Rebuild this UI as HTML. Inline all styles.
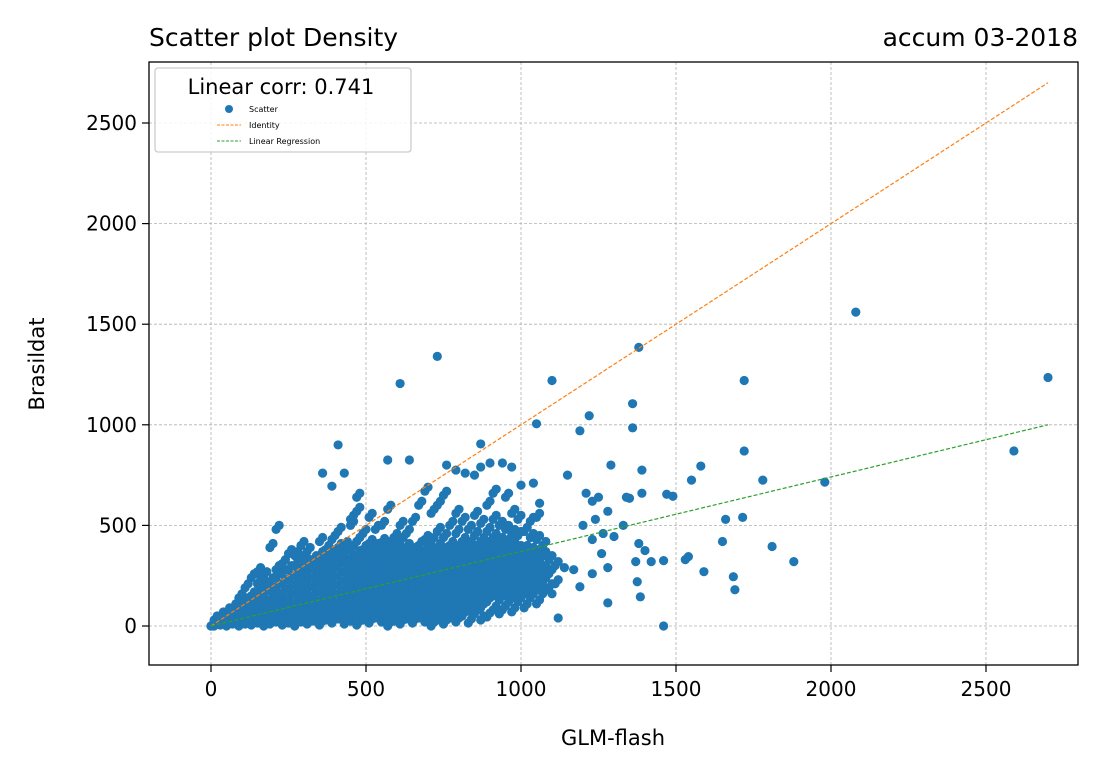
<!DOCTYPE html>
<html><head><meta charset="utf-8"><style>
body{margin:0;background:#fff;font-family:"Liberation Sans","DejaVu Sans",sans-serif}
svg text{font-family:"DejaVu Sans","Liberation Sans",sans-serif}
</style></head><body>
<svg id="chart" width="1099" height="773" xmlns="http://www.w3.org/2000/svg">
<rect width="1099" height="773" fill="#fff"/>
<g id="grid"></g>
<g id="marks"></g>
<g id="lines"></g>
<rect x="149" y="62" width="929" height="603" fill="none" stroke="#000" stroke-width="1.3"/>
<g id="ticks"></g>
<text x="149" y="46" font-size="25">Scatter plot Density</text>
<text x="1078" y="46" font-size="25" text-anchor="end">accum 03-2018</text>
<text x="613" y="745" font-size="21" text-anchor="middle">GLM-flash</text>
<text x="44" y="364" font-size="21" text-anchor="middle" transform="rotate(-90 44 364)">Brasildat</text>
<g>
<rect x="155" y="68" width="256" height="84" rx="3" fill="#fff" fill-opacity="0.85" stroke="#ccc" stroke-width="1.3"/>
<text x="281" y="94" font-size="21" text-anchor="middle">Linear corr: 0.741</text>
<circle cx="229" cy="109" r="4" fill="#1f77b4"/>
<text x="249" y="112" font-size="8">Scatter</text>
<line x1="217" y1="125" x2="241" y2="125" stroke="#ff7f0e" stroke-width="1" stroke-dasharray="3,1.5"/>
<text x="249" y="128" font-size="8">Identity</text>
<line x1="217" y1="141" x2="241" y2="141" stroke="#2ca02c" stroke-width="1" stroke-dasharray="3,1.5"/>
<text x="249" y="144" font-size="8">Linear Regression</text>
</g>
</svg>
<script>
const xTicks=[0,500,1000,1500,2000,2500];
const yTicks=[0,500,1000,1500,2000,2500];
const outliers=[[2080,1560],[2700,1235],[2590,870],[1980,715],[1880,320],[1810,395],[1780,725],[1720,1220],[1720,870],[1715,540],[1690,180],[1685,245],[1660,530],[1650,420],[1580,795],[1590,270],[1550,725],[1540,345],[1530,330],[1490,645],[1470,655],[1460,325],[1460,0],[1420,320],[1400,375],[1390,660],[1390,775],[1380,1385],[1360,1105],[1360,985],[1380,410],[1375,220],[1385,145],[1370,320],[1350,635],[1330,500],[1300,445],[1290,800],[1280,290],[1280,570],[1280,115],[1260,360],[1250,640],[1240,530],[1230,430],[1230,260],[1220,1045],[1210,660],[1190,970],[1200,500],[1190,195],[1150,750],[1140,290],[1120,40],[1100,1220],[1100,160],[1050,1005],[1040,710],[1000,700],[730,1340],[610,1205],[410,900],[570,825],[640,825],[360,760],[430,760],[390,695],[870,905],[760,800],[870,790],[900,810],[940,810],[970,790],[820,760],[790,775],[850,750],[1060,610],[1080,300],[1170,280],[1230,620],[1265,460],[1340,640]];
const clusterX=[0,10,30,50,70,90,110,130,150,170,190,210,230,250,270,290,310,330,350,370,390,410,430,450,470,490,510,530,550,570,590,610,630,650,670,690,710,730,750,770,790,810,830,850,870,890,910,930,950,970,990,1010,1030,1050,1070,1090,1110];
const clusterY=[[0,0],[0,10,30],[5,20,50],[0,15,40,70],[10,30,60,90,20],[0,25,55,100,140],[10,40,80,120,190],[5,35,70,110,150,240],[15,50,90,130,170,210,270],[0,30,70,110,160,200,250],[10,45,85,130,175,220,390],[20,60,100,140,190,240,280,480],[5,40,80,120,165,210,260,310],[15,55,95,140,185,230,280,360],[0,35,75,115,160,205,250,300,350],[20,60,100,145,190,235,280,330,400],[10,50,90,130,175,220,265,310,370],[25,65,105,150,195,240,285,330],[5,45,85,125,170,215,260,305,350,420],[30,70,110,155,200,245,290,335,380],[15,55,95,140,185,230,275,320,360,430],[35,75,115,160,205,250,295,340,390,470],[10,50,90,135,180,225,270,315,360,400],[25,65,105,150,195,240,285,330,380,500,530],[5,45,85,130,175,220,265,310,355,420,570,640],[30,70,110,155,200,245,290,335,380,460],[15,55,95,140,185,230,275,320,365,410,540],[40,80,120,165,210,255,300,345,390,480],[20,60,100,145,190,235,280,325,370,415,500],[0,45,85,130,175,220,265,310,355,400,580],[25,65,110,155,200,245,290,335,380,440],[10,50,90,135,180,225,270,315,360,420,500],[35,75,120,165,210,255,300,345,390,460],[15,60,100,145,190,235,280,325,370,520],[40,80,125,170,215,260,305,350,400,600],[20,65,105,150,195,240,285,330,375,430,670],[0,45,90,135,180,225,270,315,360,420,560],[30,70,115,160,205,250,295,340,390,470,600],[10,55,100,145,190,235,280,325,370,440,650],[40,80,125,170,215,260,305,350,400,500],[20,65,110,155,200,245,290,335,380,460,560],[50,95,140,185,230,275,320,365,420,520],[15,75,120,165,210,255,300,345,400,480],[60,105,150,195,240,285,330,380,450,550],[30,90,135,180,225,270,315,360,420,510],[45,120,165,210,255,300,345,400,470,600],[80,150,195,240,285,330,380,440,530,660],[60,130,180,225,270,315,360,420,500],[100,160,210,255,300,350,410,480,640],[70,140,190,240,290,340,400,460,560],[120,180,230,280,330,380,450,530],[90,160,220,270,320,380,470],[140,200,260,310,370,440,520],[110,180,240,300,360,430,540],[160,220,280,350,400],[190,260,330],[210,300]];
const X=v=>211+v*0.31, Y=v=>626-v*0.2012;
const NS="http://www.w3.org/2000/svg";
function mk(tag,attrs,parent){const e=document.createElementNS(NS,tag);for(const k in attrs)e.setAttribute(k,attrs[k]);parent.appendChild(e);return e;}
const grid=document.getElementById('grid'),ticks=document.getElementById('ticks'),marks=document.getElementById('marks'),lines=document.getElementById('lines');
xTicks.forEach(t=>{
 const g=mk('line',{x1:X(t),x2:X(t),y1:62,y2:665,stroke:'#b0b0b0','stroke-width':0.8,'stroke-dasharray':'3,2'},grid);
 
 
 mk('line',{x1:X(t),x2:X(t),y1:665,y2:672,stroke:'#000','stroke-width':1.2},ticks);
 const tx=mk('text',{x:X(t),y:696,'font-size':20,'text-anchor':'middle'},ticks);tx.textContent=t;
 
 
});
yTicks.forEach(t=>{
 const g=mk('line',{x1:149,x2:1078,y1:Y(t),y2:Y(t),stroke:'#b0b0b0','stroke-width':0.8,'stroke-dasharray':'3,2'},grid);
 
 
 mk('line',{x1:142,x2:149,y1:Y(t),y2:Y(t),stroke:'#000','stroke-width':1.2},ticks);
 const tx=mk('text',{x:137,y:Y(t)+7,'font-size':20,'text-anchor':'end'},ticks);tx.textContent=t;
 
 
});
function dot(x,y){
 const c=mk('circle',{cx:X(x),cy:Y(y),r:4.6,fill:'#1f77b4'},marks);
 
 
}
clusterX.forEach((x,i)=>{(clusterY[i]||[]).forEach(y=>{dot(x,y);dot(x+10,y+20);});});
outliers.forEach(p=>dot(p[0],p[1]));
const idLine=[0,2700], regX=[0,2700], regY=[0,1000];
const l1=mk('line',{x1:X(idLine[0]),y1:Y(idLine[0]),x2:X(idLine[1]),y2:Y(idLine[1]),stroke:'#ff7f0e','stroke-width':1.2,'stroke-dasharray':'4,2'},lines);


const l2=mk('line',{x1:X(regX[0]),y1:Y(regY[0]),x2:X(regX[1]),y2:Y(regY[1]),stroke:'#2ca02c','stroke-width':1.2,'stroke-dasharray':'4,2'},lines);


</script>
</body></html>
